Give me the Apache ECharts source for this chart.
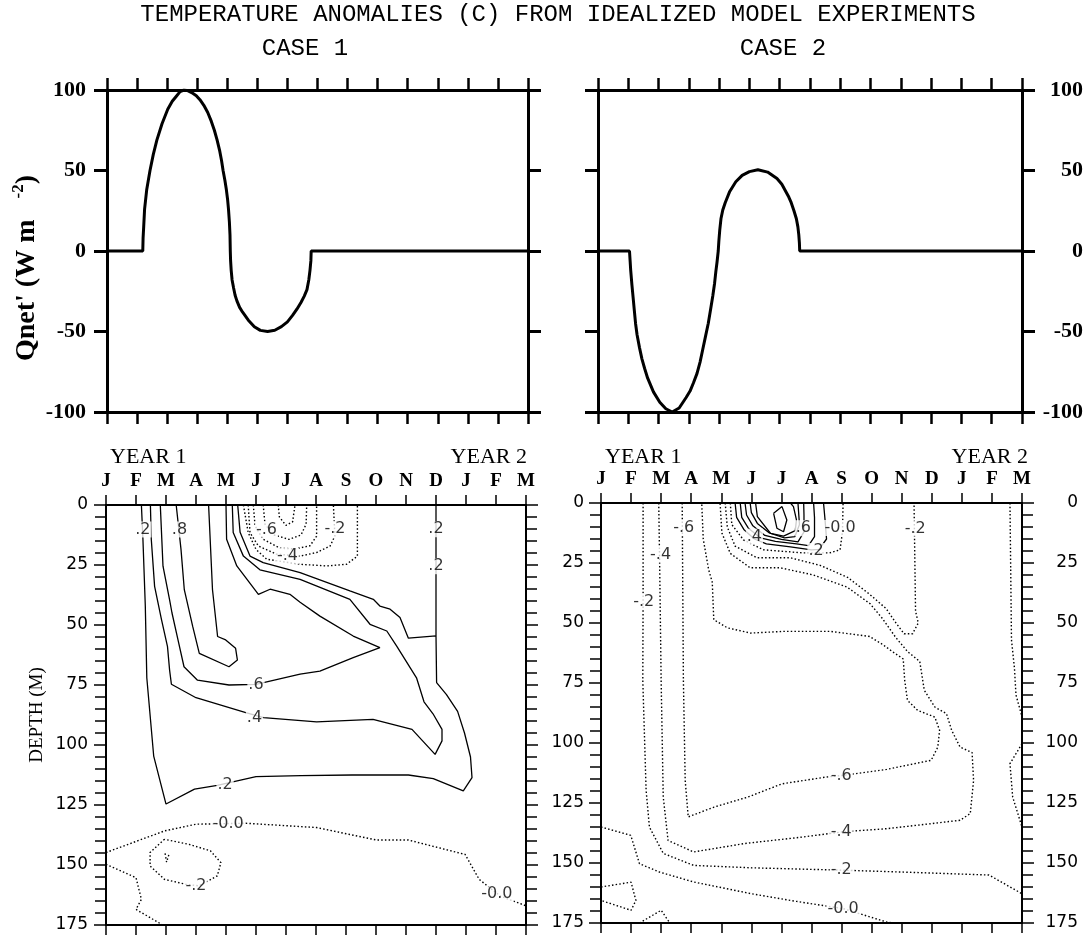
<!DOCTYPE html>
<html>
<head>
<meta charset="utf-8">
<title>Temperature anomalies</title>
<script src="https://cdn.jsdelivr.net/npm/echarts@6/dist/echarts.min.js"></script>
<style>
  html, body { margin: 0; padding: 0; background: #fff; }
  #main { width: 1087px; height: 936px; }
</style>
</head>
<body>
<div id="main"></div>
<script>
// month ticks J (year 1) .. M (year 2), x values are months from Jan of year 1
const monthLetters = ["J", "F", "M", "A", "M", "J", "J", "A", "S", "O", "N", "D", "J", "F", "M"];

// Qnet' forcing (W m-2)
const case1Month = [0, 1.19, 1.2, 1.22, 1.25, 1.32, 1.43, 1.54, 1.66, 1.83, 2.02, 2.17, 2.3, 2.43, 2.56, 2.7, 2.85, 2.97,
  3.09, 3.22, 3.35, 3.47, 3.57, 3.66, 3.75, 3.81, 3.86, 3.92, 3.97, 4.01, 4.04, 4.07, 4.09, 4.1,
  4.11, 4.13, 4.16, 4.21, 4.26, 4.32, 4.41, 4.51, 4.7, 4.9, 5.1, 5.34, 5.58, 5.8, 6.0, 6.17, 6.32, 6.45,
  6.56, 6.65, 6.71, 6.75, 6.78, 6.79, 14];
const case1Qnet = [0, 0, 8, 15, 26, 38, 50, 60, 69, 79, 88, 93, 96, 99, 100, 99.5, 98, 96.5,
  94, 90.5, 86, 80.5, 75, 69, 62, 56, 50, 44, 38, 32, 26, 18, 10, 0,
  -6, -12, -18, -23, -27.5, -31, -35, -38, -43, -47, -49.3, -50, -49.2, -47, -44, -40, -36, -32,
  -28, -24, -18, -12, -6, 0, 0];
const case2Month = [0, 1.04, 1.06, 1.08, 1.12, 1.16, 1.2, 1.24, 1.29, 1.37, 1.45, 1.54, 1.64, 1.83, 2.04, 2.24, 2.45,
  2.68, 2.91, 3.04, 3.15, 3.27, 3.37, 3.46, 3.55, 3.64, 3.72, 3.79, 3.85, 3.89, 3.93, 3.97,
  3.99, 4.02, 4.06, 4.12, 4.2, 4.35, 4.55, 4.76, 5.0, 5.28, 5.6, 5.91, 6.07, 6.2, 6.3, 6.38, 6.47, 6.55,
  6.6, 6.63, 6.65, 6.66, 14];
const case2Qnet = [0, 0, -6, -12, -21, -29, -37, -45, -52, -60, -67, -73, -79, -87.5, -94, -98, -100,
  -97.5, -91, -87, -82, -76, -69, -61, -53, -45, -36, -28, -20, -13, -7, 0,
  6, 13, 20, 25.5, 30, 37, 43, 47, 49.3, 50.5, 49, 45, 41.5, 37, 33.5, 30, 25, 20,
  15, 10, 5, 0, 0];

// CASE 1 contours, [month, depth m]
const c1Pos02 = [[1.18, 0], [1.23, 14], [1.31, 42], [1.36, 72], [1.59, 104.6], [2.0, 124.6], [2.95, 118.4], [3.71, 116.8],
  [5.0, 113.2], [6.5, 112.8], [8.2, 112.5], [10.08, 112.5], [10.91, 114], [11.91, 119.1], [12.2, 113.6], [12.15, 105],
  [11.95, 95], [11.72, 86], [11.35, 79], [11.02, 74], [11.0, 54.5], [10.08, 55.5], [9.8, 46.9], [9.47, 43.4], [9.13, 42.1],
  [8.91, 39.3], [8.13, 35.8], [6.47, 28.2], [5.24, 24], [4.8, 21.3], [4.47, 11.4], [4.39, 0]];
const c1Pos02b = [[11.0, 0], [11.0, 54.5]];
const c1Pos04 = [[1.48, 0], [1.51, 14.4], [1.62, 33.9], [1.85, 47.8], [2.05, 59], [2.12, 68.8], [2.18, 74.7], [3.0, 80.3],
  [4.66, 86.5], [5.25, 88.6], [7.02, 90.4], [8.9, 89.3], [10.2, 93.5], [10.97, 103.9], [11.2, 98.3], [11.2, 93.5],
  [10.9, 87], [10.6, 82], [10.35, 72], [9.69, 58.8], [9.36, 52.5], [8.8, 49.7], [8.13, 39.3], [6.47, 31], [5.13, 27],
  [4.58, 21.3], [4.24, 11.5], [4.21, 0]];
const c1Pos06 = [[1.81, 0], [1.9, 25.5], [2.12, 39.5], [2.2, 45], [2.4, 56.2], [2.6, 67.4], [3.05, 73], [4.1, 75], [5.0, 74.7],
  [6.47, 70.5], [7.13, 69.2], [8.24, 63.6], [9.13, 59.4], [8.24, 54.6], [7.13, 46.3], [6.47, 40.5], [6.13, 37.2],
  [5.47, 35.1], [5.08, 37.2], [4.36, 25.4], [4.02, 14.3], [4.0, 0]];
const c1Pos08 = [[2.34, 0], [2.5, 18.5], [2.61, 35.3], [2.89, 50.6], [3.11, 61.8], [4.1, 67.4], [4.38, 64.6], [4.32, 59.7],
  [3.99, 56.2], [3.72, 54.8], [3.55, 35.3], [3.42, 0]];
const c1Neg00 = [[4.58, 0], [4.74, 11.5], [5.0, 18.5], [5.36, 22.6], [6.47, 24.7], [7.36, 25.4], [8.02, 24.7], [8.38, 21.3], [8.38, 0]];
const c1Neg02 = [[4.74, 0], [4.8, 11.5], [5.08, 17.1], [5.69, 20.5], [6.47, 21.3], [7.02, 19.8], [7.47, 17.1], [7.63, 12.9], [7.58, 0]];
const c1Neg04 = [[4.91, 0], [4.97, 8.75], [5.24, 14.3], [5.8, 18], [6.3, 18.3], [6.8, 17], [7.02, 13], [7.02, 0]];
const c1Neg06 = [[5.24, 0], [5.3, 8], [5.6, 12.5], [6.1, 14.3], [6.5, 12.5], [6.67, 8], [6.69, 0]];
const c1Neg08 = [[5.74, 0], [5.78, 5], [6.0, 8.5], [6.22, 7], [6.3, 0]];
const c1Deep00 = [[0, 144.8], [1.95, 135.8], [3.0, 133], [4.66, 132.6], [7.02, 134.4], [9.02, 139.6], [10.08, 139.6],
  [11.97, 145.6], [12.44, 156], [13.15, 163], [14, 167]];
const c1Corner00 = [[0, 149.7], [1.0, 155.3], [1.18, 164.3], [1.0, 168.5], [1.89, 175]];
const c1Deep02 = [[1.95, 139.3], [1.47, 144.8], [1.47, 150.4], [1.95, 156], [2.65, 158], [3.1, 158.7], [3.71, 154.5],
  [3.83, 149], [3.48, 144.1], [2.77, 141.4], [1.95, 139.3]];
const c1Tick = [[1.97, 145.2], [2.02, 148.8], [2.1, 145.5]];
const case1Labels = [[1.23, 10.2, ".2"], [2.45, 10.2, ".8"], [5.35, 10.2, "-.6"], [6.05, 21.2, "-.4"], [7.63, 10, "-.2"],
  [11.0, 10.1, ".2"], [11.0, 25.5, ".2"], [5.0, 74.8, ".6"], [4.95, 88.6, ".4"], [3.97, 116.8, ".2"],
  [4.07, 133, "-0.0"], [3.0, 158.8, "-.2"], [13.03, 162.2, "-0.0"]];

// CASE 2 contours, [month, depth m]
const c2Pos02 = [[4.46, 0], [4.51, 6], [4.75, 11], [5.1, 15], [5.5, 17], [6.3, 18.3], [7.0, 19.5], [7.25, 19.3], [7.5, 15], [7.45, 7], [7.4, 0]];
const c2Pos04 = [[4.63, 0], [4.68, 6], [4.9, 10.5], [5.3, 14.5], [5.8, 16], [6.5, 17], [6.9, 17.8], [7.1, 14], [7.1, 6], [7.07, 0]];
const c2Pos06 = [[4.79, 0], [4.84, 5], [5.05, 9.5], [5.45, 13.5], [6.0, 15.2], [6.55, 16.2], [6.75, 12], [6.75, 5], [6.74, 0]];
const c2Pos08 = [[4.96, 0], [5.0, 4], [5.2, 8.5], [5.6, 12.5], [6.1, 14.5], [6.45, 14], [6.6, 9], [6.55, 0]];
const c2Pos10 = [[5.14, 0], [5.2, 5.7], [5.64, 12.7], [6.07, 13.8], [6.46, 11.5], [6.5, 7], [6.4, 1.5], [6.3, 0]];
const c2Pos12 = [[5.74, 4.3], [6.02, 1.5], [6.18, 7.1], [6.07, 12], [5.85, 10.5], [5.74, 4.3]];
const c2Zero = [[4.3, 0], [4.35, 9], [4.74, 15.4], [5.4, 19.5], [6.73, 20.8], [7.6, 20.8], [7.95, 19.5], [8.03, 12], [8.05, 0]];
const c2Neg02 = [[4.13, 0], [4.2, 10], [4.46, 18], [5.18, 22.8], [6.29, 22.8], [7.29, 26], [8.2, 31], [8.93, 38], [9.48, 44],
  [9.81, 50], [10.08, 54.5], [10.36, 54.5], [10.55, 50], [10.46, 45], [10.41, 0]];
const c2Neg04 = [[1.92, 0], [1.95, 25], [2.0, 74], [2.07, 122.5], [2.23, 140.6], [3.08, 145.4], [4.77, 141.9], [6.69, 139.2],
  [8.05, 137], [9.51, 135.7], [10.98, 133.6], [11.94, 132.2], [12.28, 129.4], [12.39, 115.6], [12.34, 104], [11.94, 101.7],
  [11.66, 94.7], [11.49, 87.8], [11.1, 85], [10.75, 78], [10.6, 66], [10.2, 62], [9.8, 56], [9.35, 48], [8.95, 42],
  [8.18, 35], [7.07, 30], [5.96, 27], [4.96, 27], [4.3, 21], [4.02, 12.5], [3.96, 0]];
const c2Neg06 = [[2.7, 0], [2.74, 74], [2.8, 115.6], [2.9, 130.8], [3.76, 126.7], [4.89, 122.5], [6.02, 117], [7.48, 114.2],
  [8.05, 113.5], [9.5, 111], [10.98, 107.2], [11.2, 101.7], [11.26, 94.7], [11.1, 89.2], [10.53, 86.4], [10.19, 82.2],
  [10.1, 74], [10.05, 65], [9.7, 62], [9.37, 59], [8.93, 55.6], [7.64, 53.5], [6.08, 53.5], [4.97, 54.2], [4.2, 52],
  [3.75, 48.6], [3.7, 33], [3.58, 27.8], [3.4, 15], [3.35, 0]];
const c2Neg02Deep = [[1.4, 0], [1.4, 40], [1.39, 74], [1.5, 119.7], [1.61, 135], [2.07, 146], [3.08, 151], [5.0, 152],
  [8.05, 153], [10.08, 153.8], [12.9, 155], [14, 162.8]];
const c2Zero00Deep = [[0, 135], [0.99, 138.5], [1.28, 150.3], [1.95, 153.8], [3.08, 157.9], [5.0, 162.8], [6.5, 166],
  [8.05, 169], [9.5, 174.6], [9.7, 175]];
const c2ZeroLoop = [[0, 160], [1.0, 158], [1.16, 165.6], [1.0, 169.7], [0, 165.6]];
const c2ZeroTri = [[1.28, 175], [2.0, 169.7], [2.29, 175]];
const c2RightTop = [[13.6, 0], [13.65, 57], [13.75, 69], [13.8, 80], [14, 89]];
const c2RightLoop = [[14, 100.3], [13.6, 108.6], [13.69, 122.5], [14, 135]];
const case2Labels = [[2.75, 10.4, "-.6"], [1.98, 21.5, "-.4"], [1.42, 41, "-.2"], [5.1, 14, ".4"], [6.73, 10.5, ".6"],
  [7.15, 20, ".2"], [7.95, 10.4, "-0.0"], [10.45, 10.6, "-.2"], [7.99, 113.5, "-.6"], [7.99, 137, "-.4"],
  [7.99, 153, "-.2"], [8.05, 169, "-0.0"]];

const case1Solid = [c1Pos02, c1Pos02b, c1Pos04, c1Pos06, c1Pos08];
const case1Dotted = [c1Neg00, c1Neg02, c1Neg04, c1Neg06, c1Neg08, c1Deep00, c1Corner00, c1Deep02, c1Tick];
const case2Solid = [c2Pos02, c2Pos04, c2Pos06, c2Pos08, c2Pos10, c2Pos12];
const case2Dotted = [c2Zero, c2Neg02, c2Neg04, c2Neg06, c2Neg02Deep, c2Zero00Deep, c2ZeroLoop, c2ZeroTri, c2RightTop, c2RightLoop];

const black = "#000";
const zip = (xs, ys) => xs.map((x, i) => [x, ys[i]]);

function qnetX(gi, pos) {
  return {
    type: "value", gridIndex: gi, position: pos, min: 0, max: 14, interval: 1,
    axisLine: { onZero: false, lineStyle: { color: black, width: 3 } },
    axisTick: { length: 12, lineStyle: { color: black, width: 2.5 } },
    axisLabel: { show: false }, splitLine: { show: false }
  };
}
function qnetY(gi, pos, showLabel) {
  return {
    type: "value", gridIndex: gi, position: pos, min: -100, max: 100, interval: 50,
    axisLine: { onZero: false, lineStyle: { color: black, width: 3 } },
    axisTick: { length: 13, lineStyle: { color: black, width: 3 } },
    axisLabel: {
      show: showLabel, margin: pos === "left" ? 21 : 61, align: "right",
      fontFamily: "Liberation Serif", fontWeight: "bold", fontSize: 22, color: black
    },
    splitLine: { show: false }
  };
}
function depthX(gi, pos) {
  return {
    type: "value", gridIndex: gi, position: pos, min: 0, max: 14, interval: 1,
    axisLine: { onZero: false, lineStyle: { color: black, width: 2 } },
    axisTick: { length: 10, lineStyle: { color: black, width: 1.5 } },
    axisLabel: {
      show: pos === "top", margin: 14, formatter: v => monthLetters[v] || "",
      fontFamily: "Liberation Serif", fontWeight: "bold", fontSize: 19, color: black
    },
    splitLine: { show: false }
  };
}
function depthY(gi, pos, showLabel, margin) {
  return {
    type: "value", gridIndex: gi, position: pos, inverse: true, min: 0, max: 175, interval: 25,
    axisLine: { onZero: false, lineStyle: { color: black, width: 2 } },
    axisTick: { length: 12, lineStyle: { color: black, width: 1.5 } },
    minorTick: { show: true, splitNumber: 5, length: 11, lineStyle: { color: black, width: 1.5 } },
    axisLabel: {
      show: showLabel, margin: margin, align: "right",
      fontFamily: "DejaVu Sans", fontSize: 17, color: black
    },
    splitLine: { show: false }, minorSplitLine: { show: false }
  };
}

function contour(data, axis, dotted) {
  return {
    type: "line", xAxisIndex: axis, yAxisIndex: axis, data: data, symbol: "none", silent: true, z: 3,
    lineStyle: { color: black, width: dotted ? 1.4 : 1.3, type: dotted ? [1.5, 2.2] : "solid" }
  };
}
function contourLabels(labels, axis) {
  return {
    type: "scatter", xAxisIndex: axis, yAxisIndex: axis, data: labels, symbolSize: 1, silent: true, z: 6,
    itemStyle: { color: "rgba(0,0,0,0)" },
    label: {
      show: true, position: "inside", formatter: p => p.value[2],
      fontFamily: "DejaVu Sans", fontSize: 16, color: black, backgroundColor: "#fff", padding: [0, 1]
    }
  };
}

function textItem(x, y, text, font, align, rotation) {
  return {
    type: "text", x: x, y: y, rotation: rotation || 0,
    style: { text: text, font: font, fill: black, align: align, verticalAlign: "middle",
      textAlign: align, textVerticalAlign: "middle" }
  };
}

const chart = echarts.init(document.getElementById("main"));
const series = [
  { type: "line", xAxisIndex: 0, yAxisIndex: 0, data: zip(case1Month, case1Qnet), symbol: "none", silent: true,
    lineStyle: { color: black, width: 3 }, z: 3 },
  { type: "line", xAxisIndex: 2, yAxisIndex: 2, data: zip(case2Month, case2Qnet), symbol: "none", silent: true,
    lineStyle: { color: black, width: 3 }, z: 3 }
];
case1Solid.forEach(c => series.push(contour(c, 4, false)));
case1Dotted.forEach(c => series.push(contour(c, 4, true)));
case2Solid.forEach(c => series.push(contour(c, 6, false)));
case2Dotted.forEach(c => series.push(contour(c, 6, true)));
series.push(contourLabels(case1Labels, 4));
series.push(contourLabels(case2Labels, 6));

const option = {
  backgroundColor: "#fff",
  animation: false,
  grid: [
    { left: 107, top: 90, width: 421, height: 322 },
    { left: 598, top: 90, width: 424, height: 322 },
    { left: 106, top: 505, width: 420, height: 420 },
    { left: 601, top: 503, width: 421, height: 420 }
  ],
  xAxis: [qnetX(0, "bottom"), qnetX(0, "top"), qnetX(1, "bottom"), qnetX(1, "top"),
    depthX(2, "bottom"), depthX(2, "top"), depthX(3, "bottom"), depthX(3, "top")],
  yAxis: [qnetY(0, "left", true), qnetY(0, "right", false), qnetY(1, "left", false), qnetY(1, "right", true),
    depthY(2, "left", true, 18), depthY(2, "right", false, 10), depthY(3, "left", true, 17), depthY(3, "right", true, 56)],
  graphic: [
    textItem(558, 15, "TEMPERATURE ANOMALIES (C) FROM IDEALIZED MODEL EXPERIMENTS", '24px "Liberation Mono"', "center"),
    textItem(305, 49, "CASE 1", '24px "Liberation Mono"', "center"),
    textItem(783, 49, "CASE 2", '24px "Liberation Mono"', "center"),
    textItem(110, 457, "YEAR 1", '22px "Liberation Serif"', "left"),
    textItem(527, 457, "YEAR 2", '22px "Liberation Serif"', "right"),
    textItem(605, 457, "YEAR 1", '22px "Liberation Serif"', "left"),
    textItem(1028, 457, "YEAR 2", '22px "Liberation Serif"', "right"),
    textItem(37, 715, "DEPTH (M)", '19px "Liberation Serif"', "center", Math.PI / 2),
    {
      type: "text", x: 27, y: 268, rotation: Math.PI / 2,
      style: {
        text: "Qnet' (W m   {s|-2})", fill: black, align: "center", verticalAlign: "middle",
        textAlign: "center", textVerticalAlign: "middle",
        fontFamily: "Liberation Serif", fontWeight: "bold", fontSize: 28, lineHeight: 34,
        rich: { s: { fontFamily: "Liberation Serif", fontWeight: "bold", fontSize: 17, verticalAlign: "top", fill: black } }
      }
    }
  ],
  series: series
};
chart.setOption(option);
</script>
</body>
</html>
